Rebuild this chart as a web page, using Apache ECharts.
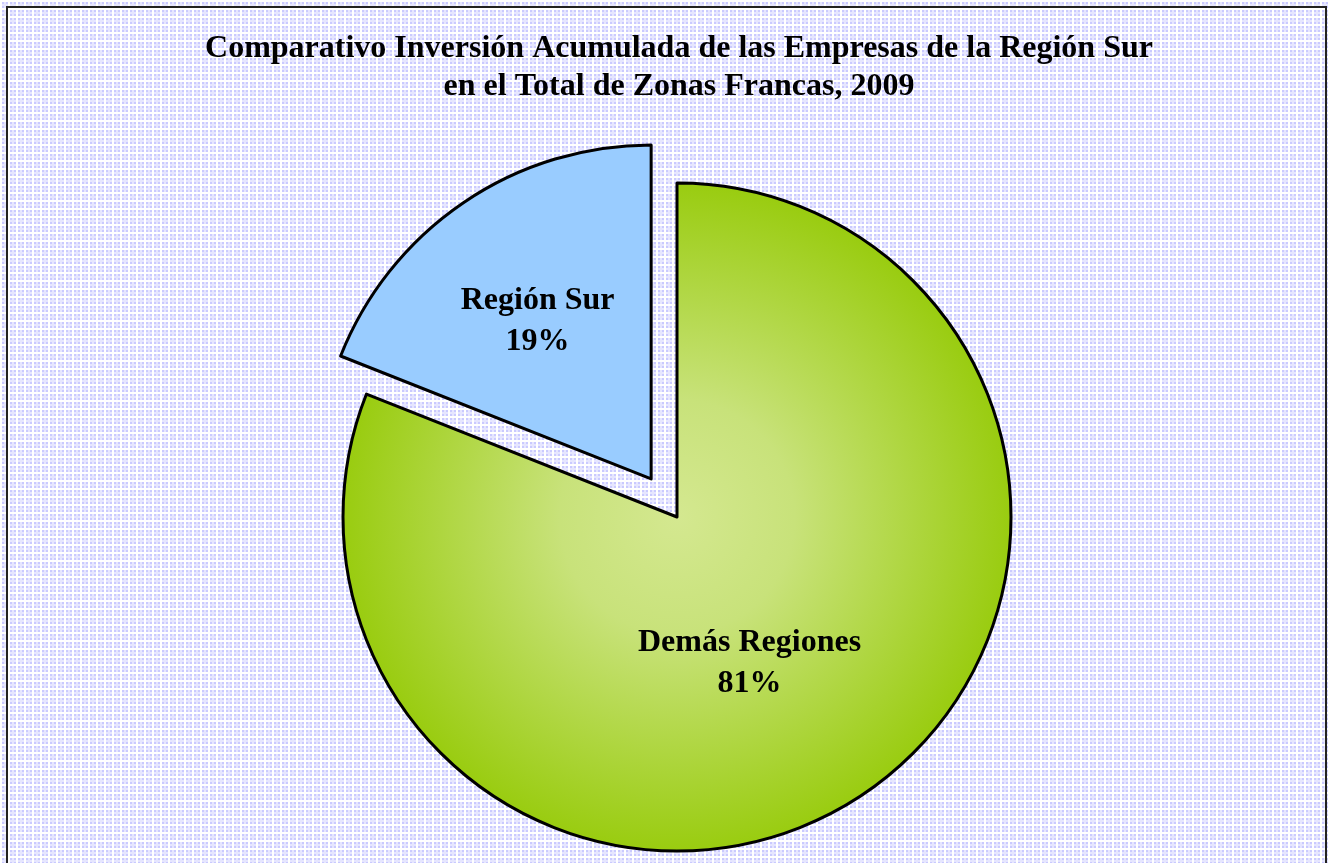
<!DOCTYPE html>
<html>
<head>
<meta charset="utf-8">
<script src="https://cdn.jsdelivr.net/npm/echarts@6/dist/echarts.min.js"></script>
<style>
  html, body { margin: 0; padding: 0; }
  #chart { width: 1328px; height: 863px; }
</style>
</head>
<body>
<div id="chart"></div>
<script>
  // datos del gráfico
  const categories = ["Demás Regiones", "Región Sur"];
  const values = [81, 19];
  const titleLines = [
    "Comparativo Inversión Acumulada de las Empresas de la Región Sur",
    "en el Total de Zonas Francas, 2009",
  ];

  // fondo cuadriculado
  function makePattern() {
    let c = document.createElement("canvas");
    c.width = 8;
    c.height = 8;
    let ctx = c.getContext("2d");
    ctx.fillStyle = "#cacaff";
    ctx.fillRect(0, 0, 8, 8);
    ctx.fillStyle = "#e6e6ff";
    ctx.fillRect(4, 0, 2, 8);
    ctx.fillRect(0, 4, 8, 2);
    ctx.fillStyle = "#ffffff";
    ctx.fillRect(0, 0, 2, 8);
    ctx.fillRect(0, 0, 8, 2);
    return c;
  }

  let chartDiv = document.getElementById("chart");
  let chart = echarts.init(chartDiv);
  const labelFont = {
    fontFamily: "Liberation Serif, Times New Roman, serif",
    fontWeight: "bold",
    fontSize: 32,
    lineHeight: 41,
    color: "#000",
  };
  chart.setOption({
    animation: false,
    backgroundColor: { image: makePattern(), repeat: "repeat" },
    title: {
      text: titleLines.join("\n"),
      left: 679,
      top: 30,
      textAlign: "center",
      padding: 0,
      textStyle: {
        fontFamily: "Liberation Serif, Times New Roman, serif",
        fontWeight: "bold",
        fontSize: 32,
        lineHeight: 38,
        color: "#000",
      },
    },
    graphic: [
      {
        type: "rect",
        shape: { x: 7, y: 7, width: 1319, height: 870 },
        style: { fill: "none", stroke: "#222", lineWidth: 2 },
        silent: true,
      },
    ],
    series: [
      {
        type: "pie",
        center: [677, 517],
        radius: 334,
        startAngle: 90,
        clockwise: true,
        selectedMode: "single",
        selectedOffset: 46,
        emphasis: { disabled: true },
        label: Object.assign({ show: true, position: "inside", formatter: "{b}\n{c}%" }, labelFont),
        labelLine: { show: false },
        // ajuste fino de etiquetas
        labelLayout: function (params) {
          if (params.dataIndex === 1) {
            return { dx: -18, dy: -17 };
          }
          return { dx: -23, dy: 6 };
        },
        itemStyle: { borderColor: "#000", borderWidth: 3 },
        data: [
          {
            name: categories[0],
            value: values[0],
            itemStyle: {
              color: {
                type: "radial",
                x: 0.5,
                y: 0.5,
                r: 0.5,
                colorStops: [
                  { offset: 0, color: "#d4e890" },
                  { offset: 0.35, color: "#c8e27a" },
                  { offset: 1, color: "#99cc0f" },
                ],
              },
            },
          },
          {
            name: categories[1],
            value: values[1],
            selected: true,
            itemStyle: { color: "#99ccff" },
          },
        ],
      },
    ],
  });
</script>
</body>
</html>
